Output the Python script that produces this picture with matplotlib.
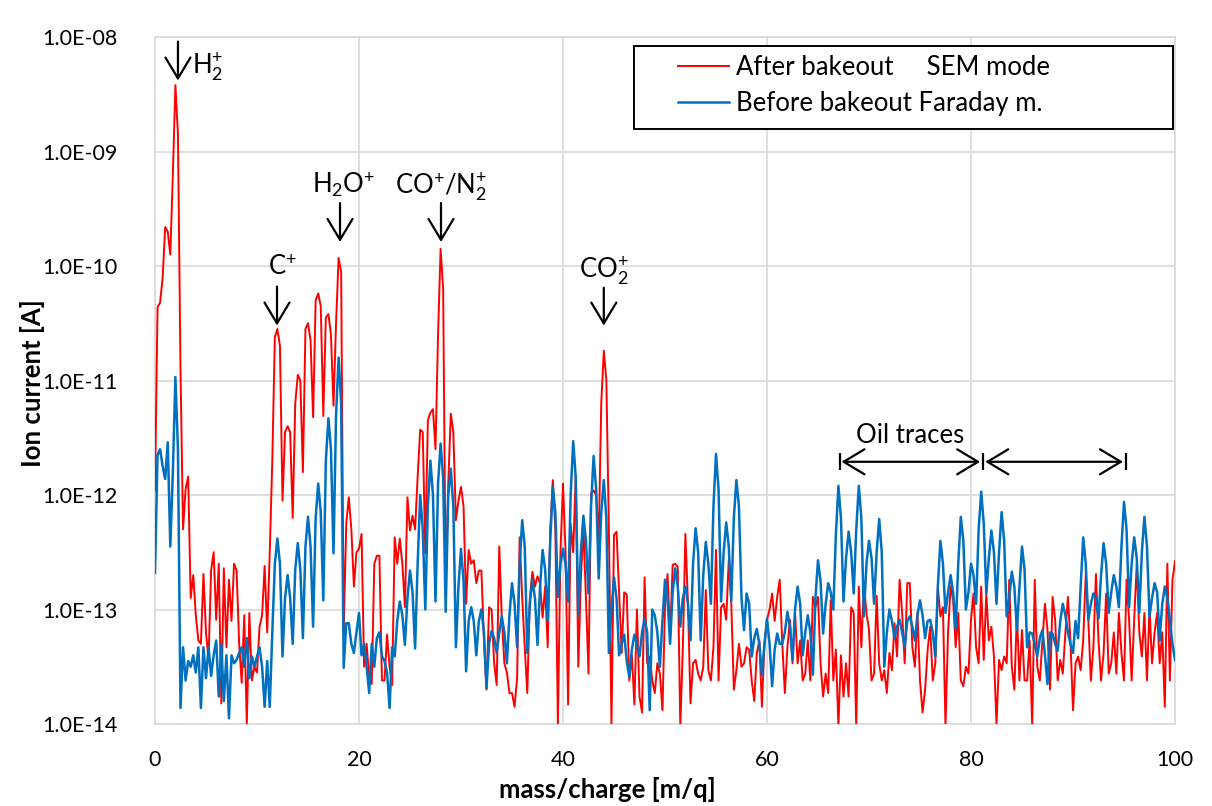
import numpy as np
import matplotlib.pyplot as plt
from matplotlib.ticker import FixedLocator, FuncFormatter, NullLocator
from matplotlib.patches import Rectangle

plt.rcParams['font.family'] = ['Lato', 'DejaVu Sans']
plt.rcParams['mathtext.fontset'] = 'custom'
plt.rcParams['mathtext.rm'] = 'Lato'
plt.rcParams['mathtext.it'] = 'Lato:italic'
plt.rcParams['mathtext.bf'] = 'Lato:bold'

# log10 of ion current [A], sampled every 0.25 m/q from 0 to 100
after_log = [
    -11.96, -10.36, -10.32, -10.10, -9.66, -9.70, -9.90, -9.20, -8.42, -8.85, -10.90, -12.30, -11.95, -11.84, -12.90, -12.70, -13.05, -13.27, -13.30, -12.69,
    -13.20, -13.44, -12.66, -12.50, -13.09, -12.60, -13.82, -12.64, -13.33, -12.74, -13.10, -12.60, -12.66, -13.30, -13.64, -13.05, -14.00, -13.03, -13.62, -13.50,
    -13.55, -13.15, -13.05, -12.62, -13.20, -12.50, -11.70, -10.62, -10.55, -10.70, -12.05, -11.45, -11.40, -11.45, -12.20, -11.20, -10.95, -11.00, -11.80, -10.55,
    -10.50, -10.65, -11.32, -10.30, -10.24, -10.35, -11.31, -10.45, -10.42, -10.60, -11.22, -10.50, -9.93, -10.05, -13.20, -12.25, -12.02, -12.30, -12.80, -12.50,
    -12.47, -12.34, -13.50, -13.30, -13.60, -13.65, -12.60, -12.53, -12.53, -13.62, -13.62, -13.22, -13.50, -13.66, -12.37, -12.60, -12.38, -12.60, -12.98, -12.02,
    -12.31, -12.18, -12.30, -11.84, -11.43, -11.45, -12.51, -11.35, -11.28, -11.25, -11.60, -10.60, -9.85, -10.20, -12.83, -11.90, -11.29, -11.45, -12.22, -12.05,
    -11.93, -12.10, -12.95, -12.48, -12.60, -12.57, -12.77, -12.66, -12.66, -13.27, -13.70, -12.98, -13.00, -13.47, -13.66, -12.45, -13.07, -13.47, -13.55, -13.73,
    -13.73, -13.85, -13.60, -12.37, -12.90, -13.33, -13.73, -12.90, -12.67, -12.80, -12.71, -12.77, -13.07, -12.80, -13.33, -12.30, -11.87, -12.30, -14.00, -12.50,
    -11.90, -12.50, -13.83, -12.25, -12.50, -11.83, -13.50, -12.74, -12.28, -12.90, -13.56, -11.99, -11.96, -12.00, -12.40, -11.20, -10.74, -11.00, -12.30, -14.00,
    -12.35, -12.32, -12.85, -13.38, -12.85, -12.87, -13.62, -13.40, -13.83, -13.00, -13.76, -13.90, -12.72, -13.47, -13.41, -13.62, -13.73, -13.47, -13.56, -13.88,
    -12.98, -12.69, -13.24, -12.61, -12.60, -12.63, -14.02, -13.33, -12.34, -12.95, -13.82, -13.47, -13.44, -13.56, -13.62, -13.50, -12.83, -13.53, -13.62, -13.33,
    -12.48, -13.62, -12.98, -12.95, -13.09, -12.57, -12.95, -13.70, -13.53, -13.30, -13.50, -13.47, -13.33, -13.35, -13.62, -13.80, -13.38, -13.27, -13.85, -13.30,
    -13.09, -13.00, -12.86, -13.10, -12.89, -12.74, -13.30, -13.73, -13.33, -13.09, -13.47, -13.03, -13.47, -13.27, -13.62, -13.56, -13.27, -13.62, -12.89, -12.98,
    -12.89, -13.47, -13.76, -13.56, -13.73, -12.92, -13.62, -13.35, -14.02, -13.40, -13.76, -13.47, -13.76, -12.98, -13.03, -14.02, -12.80, -13.33, -12.77, -13.03,
    -13.18, -13.62, -13.56, -12.88, -13.47, -13.62, -13.53, -13.73, -13.38, -13.53, -13.12, -13.41, -12.74, -13.03, -13.47, -12.77, -12.77, -13.33, -13.50, -13.03,
    -13.62, -13.90, -13.70, -13.35, -13.15, -13.62, -13.47, -12.80, -13.06, -12.98, -14.02, -13.20, -12.80, -12.92, -13.33, -13.03, -13.62, -13.67, -13.50, -13.56,
    -13.09, -12.86, -13.33, -13.47, -12.80, -13.44, -12.86, -13.27, -13.15, -13.41, -14.00, -13.44, -13.53, -13.41, -13.47, -12.74, -13.50, -13.70, -13.03, -13.62,
    -13.18, -13.62, -13.62, -13.27, -14.02, -12.74, -13.50, -13.62, -13.27, -12.95, -13.18, -13.70, -12.89, -13.09, -13.62, -13.44, -13.56, -13.21, -12.89, -13.27,
    -13.88, -13.47, -13.41, -13.53, -13.27, -12.69, -13.09, -13.62, -13.33, -12.69, -13.27, -13.62, -13.38, -12.86, -13.56, -13.47, -13.20, -13.56, -13.03, -13.38,
    -13.62, -12.74, -13.09, -13.62, -13.09, -12.60, -13.20, -13.41, -13.03, -13.62, -12.98, -13.47, -13.20, -13.03, -13.47, -13.20, -13.85, -12.60, -13.62, -12.74,
    -12.58,
]

before_log = [
    -12.68, -11.65, -11.60, -11.75, -11.86, -11.54, -12.45, -11.80, -10.97, -11.60, -13.86, -13.33, -13.62, -13.45, -13.50, -13.40, -13.55, -13.33, -13.86, -13.33,
    -13.60, -13.33, -13.58, -13.40, -13.27, -13.76, -13.30, -13.80, -13.40, -13.95, -13.40, -13.47, -13.44, -13.38, -13.33, -13.50, -13.25, -13.60, -13.41, -13.50,
    -13.41, -13.33, -13.50, -13.85, -13.45, -13.85, -13.20, -12.60, -12.38, -12.60, -13.41, -12.90, -12.70, -12.90, -13.30, -12.65, -12.42, -12.65, -13.25, -12.45,
    -12.19, -12.45, -13.15, -12.20, -11.90, -12.15, -12.92, -11.70, -11.33, -11.60, -12.51, -11.30, -10.80, -11.20, -13.51, -13.12, -13.12, -13.30, -13.38, -13.20,
    -13.03, -13.40, -13.30, -13.50, -13.73, -13.30, -13.50, -13.25, -13.20, -13.41, -13.45, -13.55, -13.86, -13.33, -13.41, -13.10, -12.93, -13.05, -13.31, -12.90,
    -12.66, -12.85, -13.34, -12.60, -12.00, -12.30, -13.00, -12.10, -11.70, -12.00, -12.93, -11.90, -11.55, -11.85, -13.02, -12.00, -11.77, -12.10, -13.33, -12.80,
    -12.47, -12.75, -13.54, -13.10, -12.98, -13.10, -13.40, -13.10, -13.00, -13.20, -13.69, -13.30, -13.19, -13.25, -13.38, -13.20, -13.06, -13.20, -13.47, -13.05,
    -12.77, -12.95, -13.33, -12.60, -12.22, -12.45, -13.38, -12.95, -12.74, -12.90, -13.31, -12.80, -12.48, -12.65, -13.10, -12.40, -11.93, -12.15, -12.89, -12.60,
    -12.47, -12.60, -12.93, -12.00, -11.53, -11.85, -13.05, -12.50, -12.18, -12.40, -12.86, -12.10, -11.66, -11.95, -12.73, -12.15, -11.87, -12.20, -13.38, -13.00,
    -12.72, -12.90, -13.40, -13.30, -13.22, -13.45, -13.59, -13.35, -13.22, -13.30, -13.41, -13.20, -13.08, -13.20, -13.88, -13.00, -13.05, -13.20, -13.50, -13.10,
    -12.74, -12.90, -13.30, -12.85, -12.64, -12.80, -13.15, -12.90, -12.80, -12.95, -13.27, -12.60, -12.29, -12.50, -13.27, -12.70, -12.41, -12.60, -12.95, -12.10,
    -11.64, -11.95, -12.93, -12.50, -12.24, -12.45, -12.92, -12.20, -11.87, -12.10, -12.90, -13.18, -12.86, -12.95, -13.41, -13.25, -13.17, -13.30, -13.57, -13.30,
    -13.08, -13.30, -13.67, -13.35, -13.21, -13.30, -13.30, -13.20, -13.02, -13.15, -13.44, -13.00, -12.80, -12.95, -13.40, -13.20, -13.05, -13.20, -13.57, -12.90,
    -12.57, -12.75, -13.21, -12.95, -12.77, -12.85, -13.00, -12.35, -11.92, -12.20, -12.93, -12.55, -12.32, -12.50, -12.86, -12.30, -11.92, -12.20, -13.06, -12.60,
    -12.40, -12.55, -12.95, -12.50, -12.21, -12.50, -13.50, -13.20, -13.00, -13.10, -13.25, -13.15, -13.09, -13.20, -13.33, -13.10, -13.06, -13.15, -13.27, -13.05,
    -12.92, -13.05, -13.25, -13.10, -13.09, -13.20, -13.41, -12.80, -12.40, -12.60, -13.03, -12.85, -12.70, -12.85, -13.17, -12.60, -12.19, -12.40, -13.00, -12.85,
    -12.60, -12.70, -12.95, -12.30, -11.97, -12.25, -12.86, -12.55, -12.31, -12.50, -12.95, -12.50, -12.15, -12.40, -13.06, -12.90, -12.67, -12.80, -13.18, -12.80,
    -12.45, -12.65, -13.33, -13.20, -13.21, -13.30, -13.41, -13.25, -13.18, -13.40, -13.65, -13.20, -13.21, -13.30, -13.36, -13.10, -12.95, -13.05, -13.20, -13.30,
    -13.38, -13.10, -13.25, -12.80, -12.37, -12.60, -13.09, -12.95, -12.86, -12.90, -13.08, -12.70, -12.42, -12.60, -13.03, -12.85, -12.70, -12.80, -12.98, -12.45,
    -12.06, -12.30, -12.98, -12.60, -12.37, -12.55, -13.03, -12.50, -12.19, -12.45, -13.06, -12.90, -12.77, -12.85, -13.27, -12.95, -12.80, -12.90, -13.10, -13.30,
    -13.44,
]

mass_after = np.arange(len(after_log)) * 0.25
mass_before = np.arange(len(before_log)) * 0.25
after = 10.0 ** np.array(after_log)
before = 10.0 ** np.array(before_log)

x_ticks = [0, 20, 40, 60, 80, 100]
y_ticks = [1e-14, 1e-13, 1e-12, 1e-11, 1e-10, 1e-9, 1e-8]

fig = plt.figure(figsize=(12.12, 8.06), dpi=100)
ax = fig.add_axes([155 / 1212, 1 - 724 / 806, 1020 / 1212, 687 / 806])

ax.plot(mass_after, after, color='#FF0000', lw=1.4, label='After bakeout     SEM mode', zorder=3)
ax.plot(mass_before, before, color='#0070C0', lw=1.8, label='Before bakeout Faraday m.', zorder=4)

ax.set_yscale('log')
ax.set_xlim(0, 100)
ax.set_ylim(1e-14, 1e-8)
ax.xaxis.set_major_locator(FixedLocator(x_ticks))
ax.yaxis.set_major_locator(FixedLocator(y_ticks))
ax.yaxis.set_minor_locator(NullLocator())
ax.yaxis.set_major_formatter(FuncFormatter(lambda v, p: '1.0E%+03d' % round(np.log10(v))))
ax.tick_params(length=0, labelsize=15.5, colors='black')
ax.tick_params(axis='x', pad=19)
ax.tick_params(axis='y', pad=27)
ax.grid(True, color='#D9D9D9', lw=1.2, zorder=0)
for s in ax.spines.values():
    s.set_color('#D9D9D9')
    s.set_linewidth(1.2)

fig.text(607 / 1212, 1 - 790 / 806, 'mass/charge [m/q]', ha='center', va='center',
         fontsize=18.5, fontweight='bold')
fig.text(33 / 1212, 1 - 383 / 806, 'Ion current [A]', ha='center', va='center',
         rotation=90, fontsize=18.5, fontweight='bold')

# peak labels with arrows
arrow = dict(arrowstyle='->, head_length=0.5, head_width=0.3', lw=1.6, color='black',
             mutation_scale=30, shrinkA=0, shrinkB=0)
P = r'^{\text{+}}'
peaks = [
    ('H$_2' + P + '$', 2.25, -8.04, -8.38, 3.6, -8.26, 'left'),
    ('C$' + P + '$', 11.96, -10.18, -10.52, 12.45, -10.01, 'center'),
    ('H$_2$O$' + P + '$', 18.14, -9.45, -9.79, 18.5, -9.29, 'center'),
    ('CO$' + P + '$/N$_2' + P + '$', 28.04, -9.45, -9.79, 28.04, -9.31, 'center'),
    ('CO$_2' + P + '$', 44.0, -10.19, -10.52, 44.0, -10.04, 'center'),
]
for lab, xa, y0, y1, xt, yt, ha in peaks:
    ax.annotate('', xy=(xa, 10 ** y1), xytext=(xa, 10 ** y0), arrowprops=arrow,
                annotation_clip=False, zorder=6)
    ax.text(xt, 10 ** yt, lab, ha=ha, va='center', fontsize=18.5, zorder=6)

# oil traces ranges
oil_y = 10 ** -11.71
ax.text(74.0, 10 ** -11.48, 'Oil traces', ha='center', va='center', fontsize=18.5, zorder=6)
two_head = dict(arrowstyle='<->, head_length=0.5, head_width=0.3', lw=1.6, color='black',
                mutation_scale=30, shrinkA=0, shrinkB=0)
ax.annotate('', xy=(80.9, oil_y), xytext=(67.3, oil_y), arrowprops=two_head, zorder=6)
ax.annotate('', xy=(94.9, oil_y), xytext=(81.4, oil_y), arrowprops=two_head, zorder=6)
ax.vlines([67.16, 81.15, 95.17], 10 ** -11.785, 10 ** -11.635, color='black', lw=1.6, zorder=6)

# legend
ax.add_patch(Rectangle((0.4696, 0.8661), 0.5284, 0.1208, transform=ax.transAxes,
                       facecolor='white', edgecolor='black', lw=1.4, zorder=7))
leg = ax.legend(loc='upper left', bbox_to_anchor=(0.5127, 0.9745), frameon=False,
                fontsize=18.5, handlelength=2.0, handletextpad=0.25, borderpad=0,
                borderaxespad=0, labelspacing=0.45)
leg.set_zorder(8)

fig.savefig('out.png', dpi=100)
